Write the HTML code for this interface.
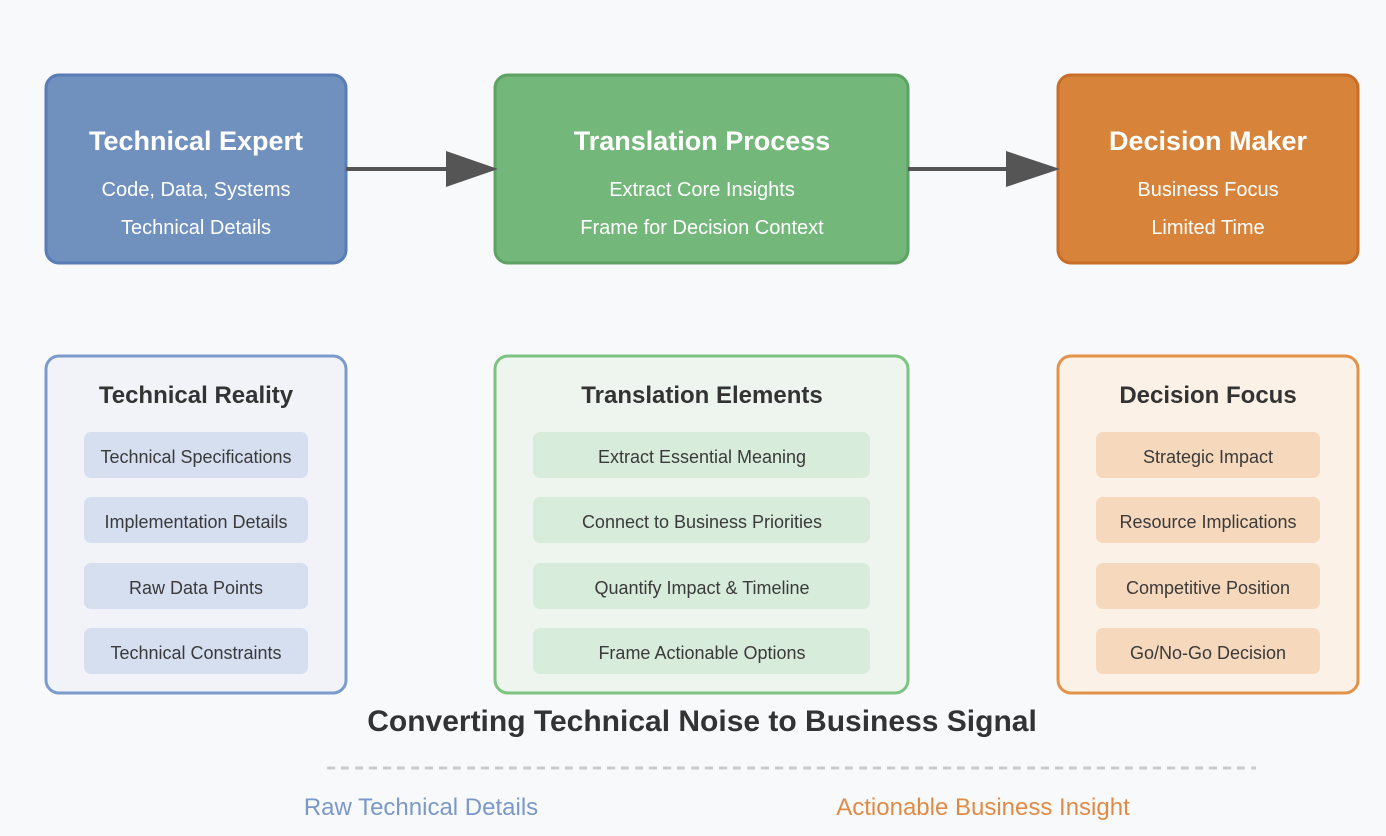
<!DOCTYPE html>
<html><head><meta charset="utf-8"><style>
html,body{margin:0;padding:0;background:#f8f9fb;}
svg{display:block;font-family:"Liberation Sans",Arial,sans-serif;}
</style></head><body>
<svg width="1386" height="836" viewBox="0 0 1386 836" xmlns="http://www.w3.org/2000/svg">
<rect width="1386" height="836" fill="#f8f9fb"/>
<!-- top boxes -->
<rect x="46" y="75" width="300" height="188" rx="13" fill="#7090be" stroke="#5a7cb6" stroke-width="3"/>
<rect x="495" y="75" width="413" height="188" rx="13" fill="#73b87a" stroke="#5ea264" stroke-width="3"/>
<rect x="1058" y="75" width="300" height="188" rx="13" fill="#d7843a" stroke="#c86e28" stroke-width="3"/>
<g fill="#fff" text-anchor="middle">
<text x="196" y="150" font-size="27" font-weight="bold">Technical Expert</text>
<text x="196" y="196" font-size="20">Code, Data, Systems</text>
<text x="196" y="234" font-size="20">Technical Details</text>
<text x="702" y="150" font-size="27" font-weight="bold">Translation Process</text>
<text x="702" y="196" font-size="20">Extract Core Insights</text>
<text x="702" y="234" font-size="20">Frame for Decision Context</text>
<text x="1208" y="150" font-size="27" font-weight="bold">Decision Maker</text>
<text x="1208" y="196" font-size="20">Business Focus</text>
<text x="1208" y="234" font-size="20">Limited Time</text>
</g>
<!-- arrows -->
<line x1="346" y1="169" x2="452" y2="169" stroke="#555" stroke-width="4"/>
<polygon points="446,151 498,169 446,187" fill="#555"/>
<line x1="908" y1="169" x2="1012" y2="169" stroke="#555" stroke-width="4"/>
<polygon points="1006,151 1060,169 1006,187" fill="#555"/>
<!-- bottom boxes -->
<rect x="46" y="356" width="300" height="337" rx="13" fill="#f1f3f8" stroke="#7b9bcc" stroke-width="3"/>
<rect x="495" y="356" width="413" height="337" rx="13" fill="#eef5ef" stroke="#7cc480" stroke-width="3"/>
<rect x="1058" y="356" width="300" height="337" rx="13" fill="#fcf1e7" stroke="#e3924a" stroke-width="3"/>
<g font-size="24" font-weight="bold" fill="#333" text-anchor="middle">
<text x="196" y="403">Technical Reality</text>
<text x="702" y="403">Translation Elements</text>
<text x="1208" y="403">Decision Focus</text>
</g>
<g fill="#d5dff0">
<rect x="84" y="432" width="224" height="46" rx="7"/>
<rect x="84" y="497" width="224" height="46" rx="7"/>
<rect x="84" y="563" width="224" height="46" rx="7"/>
<rect x="84" y="628" width="224" height="46" rx="7"/>
</g>
<g fill="#d8ecdc">
<rect x="533" y="432" width="337" height="46" rx="7"/>
<rect x="533" y="497" width="337" height="46" rx="7"/>
<rect x="533" y="563" width="337" height="46" rx="7"/>
<rect x="533" y="628" width="337" height="46" rx="7"/>
</g>
<g fill="#f6d8bd">
<rect x="1096" y="432" width="224" height="46" rx="7"/>
<rect x="1096" y="497" width="224" height="46" rx="7"/>
<rect x="1096" y="563" width="224" height="46" rx="7"/>
<rect x="1096" y="628" width="224" height="46" rx="7"/>
</g>
<g font-size="18" fill="#3a3a3a" text-anchor="middle">
<text x="196" y="463">Technical Specifications</text>
<text x="196" y="528">Implementation Details</text>
<text x="196" y="594">Raw Data Points</text>
<text x="196" y="659">Technical Constraints</text>
<text x="702" y="463">Extract Essential Meaning</text>
<text x="702" y="528">Connect to Business Priorities</text>
<text x="702" y="594">Quantify Impact &amp; Timeline</text>
<text x="702" y="659">Frame Actionable Options</text>
<text x="1208" y="463">Strategic Impact</text>
<text x="1208" y="528">Resource Implications</text>
<text x="1208" y="594">Competitive Position</text>
<text x="1208" y="659">Go/No-Go Decision</text>
</g>
<text x="702" y="731" font-size="30" font-weight="bold" fill="#333" text-anchor="middle">Converting Technical Noise to Business Signal</text>
<line x1="327" y1="768" x2="1256" y2="768" stroke="#c8cacd" stroke-width="3" stroke-dasharray="8,6"/>
<text x="421" y="815" font-size="24" fill="#7a98c8" text-anchor="middle">Raw Technical Details</text>
<text x="983" y="815" font-size="24" fill="#e08b45" text-anchor="middle">Actionable Business Insight</text>
</svg>
</body></html>
